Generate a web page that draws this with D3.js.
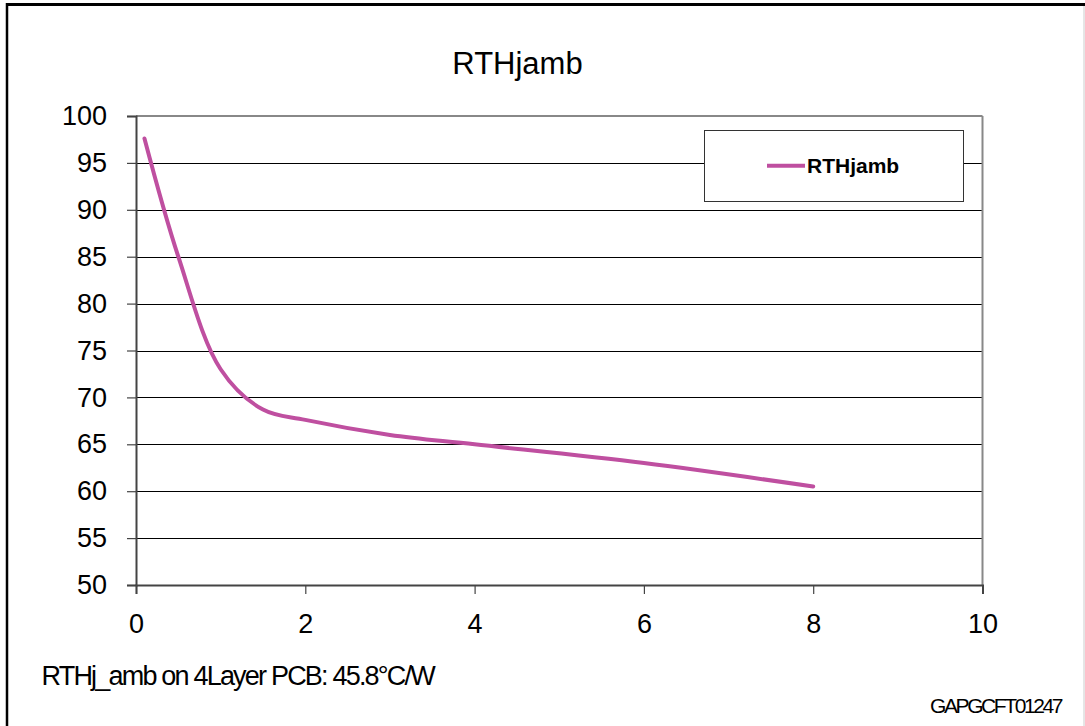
<!DOCTYPE html>
<html><head><meta charset="utf-8">
<script src="https://cdn.jsdelivr.net/npm/d3@7"></script>
<style>body{margin:0;background:#fff}svg{display:block}text{font-family:"Liberation Sans",Arial,sans-serif}</style>
</head><body>
<script>
const title = "RTHjamb";
const seriesName = "RTHjamb";
const xValues = [0.1, 0.5, 1, 1.5, 2, 3, 4, 6, 8];
const yValues = [97.6, 85, 73, 68.7, 67.6, 66, 65, 63, 60.5];
const xTicks = [0, 2, 4, 6, 8, 10];
const yTicks = [50, 55, 60, 65, 70, 75, 80, 85, 90, 95, 100];
const footnote = "RTHj_amb on 4Layer PCB: 45.8°C/W";
const code = "GAPGCFT01247";

const W = 1085, H = 726;
const svg = d3.select("body").append("svg").attr("width", W).attr("height", H);
const x = d3.scaleLinear().domain([0, 10]).range([136, 982.5]);
const y = d3.scaleLinear().domain([50, 100]).range([585, 116]);

// outer frame
svg.append("line").attr("x1", 6).attr("x2", W).attr("y1", 4.5).attr("y2", 4.5).attr("stroke", "#000").attr("stroke-width", 3);
svg.append("line").attr("x1", 7).attr("x2", 7).attr("y1", 3).attr("y2", H).attr("stroke", "#000").attr("stroke-width", 2.5);
svg.append("line").attr("x1", W - 1).attr("x2", W - 1).attr("y1", 6).attr("y2", H).attr("stroke", "#ccc").attr("stroke-width", 1);

// gridlines
svg.append("g").selectAll("line").data(yTicks.filter(d => d > 50 && d < 100)).join("line")
  .attr("x1", x(0)).attr("x2", x(10)).attr("y1", d => Math.round(y(d)) + 0.5).attr("y2", d => Math.round(y(d)) + 0.5)
  .attr("stroke", "#000").attr("stroke-width", 1);
// plot border top/right
svg.append("line").attr("x1", x(0)).attr("x2", x(10)).attr("y1", y(100)).attr("y2", y(100)).attr("stroke", "#888").attr("stroke-width", 2);
svg.append("line").attr("x1", x(10)).attr("x2", x(10)).attr("y1", y(100)).attr("y2", y(50)).attr("stroke", "#888").attr("stroke-width", 2);

// axes
const yAxis = svg.append("g").attr("transform", `translate(${x(0)},0)`)
  .call(d3.axisLeft(y).tickValues(yTicks).tickSize(9).tickPadding(20).tickFormat(d3.format("d")));
const xAxis = svg.append("g").attr("transform", `translate(0,${y(50)})`)
  .call(d3.axisBottom(x).tickValues(xTicks).tickSize(9).tickPadding(20).tickFormat(d3.format("d")));
[yAxis, xAxis].forEach(a => {
  a.select(".domain").attr("stroke", "#444").attr("stroke-width", 2);
  a.selectAll(".tick line").attr("stroke", "#444").attr("stroke-width", 1.2);
  a.selectAll(".tick text").attr("fill", "#000").style("font-size", "27px").style("font-family", '"Liberation Sans",Arial,sans-serif');
});

// series
const pts = xValues.map((v, i) => [v, yValues[i]]);
svg.append("path").datum(pts)
  .attr("d", d3.line().x(d => x(d[0])).y(d => y(d[1])).curve(d3.curveCatmullRom.alpha(0.5)))
  .attr("fill", "none").attr("stroke", "#BF4FA0").attr("stroke-width", 4).attr("stroke-linecap", "round");

// title
svg.append("text").attr("x", 517.5).attr("y", 73.5).attr("text-anchor", "middle")
  .style("font-size", "31px").text(title);

// legend
const lg = svg.append("g");
lg.append("rect").attr("x", 704.5).attr("y", 130.5).attr("width", 259).attr("height", 71)
  .attr("fill", "#fff").attr("stroke", "#333").attr("stroke-width", 1);
lg.append("line").attr("x1", 767).attr("x2", 805).attr("y1", 165.7).attr("y2", 165.7)
  .attr("stroke", "#BF4FA0").attr("stroke-width", 4);
lg.append("text").attr("x", 807).attr("y", 173.3).style("font-size", "21px").style("font-weight", "bold").text(seriesName);

// footnotes
svg.append("text").attr("x", 41.5).attr("y", 685).style("font-size", "27px")
  .style("letter-spacing", "-1.8px").text(footnote);
svg.append("text").attr("x", 930).attr("y", 713.3).style("font-size", "21px")
  .style("letter-spacing", "-2.4px").text(code);
</script>
</body></html>
